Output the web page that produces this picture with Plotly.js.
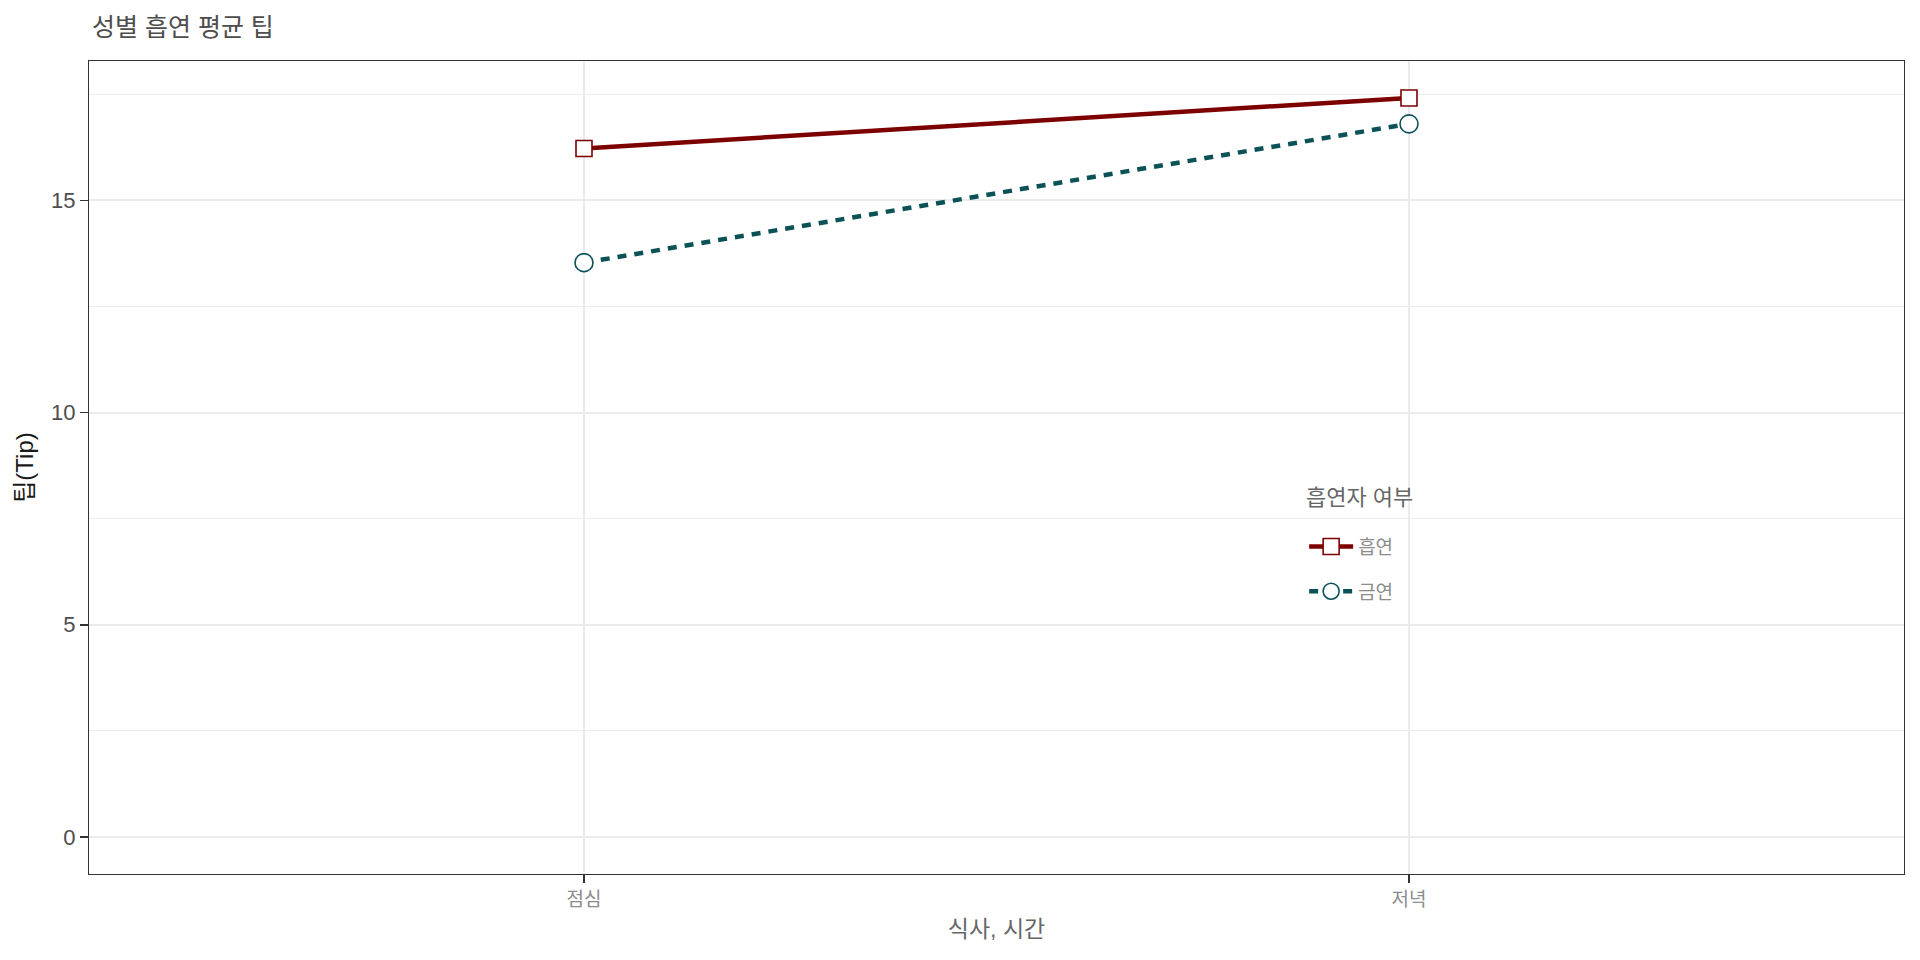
<!DOCTYPE html>
<html>
<head>
<meta charset="utf-8">
<script src="https://cdn.plot.ly/plotly-3.0.1.min.js"></script>
<style>html,body{margin:0;padding:0;background:#fff;}#chart{width:1920px;height:960px;}</style>
</head>
<body>
<div id="chart"></div>
<script>
// Data
const categories = ["점심", "저녁"];
const seriesNames = ["흡연", "금연"];
const seriesA = [16.22, 17.41];
const seriesB = [13.53, 16.80];
const yTicks = [0, 5, 10, 15];
const legendTitle = "흡연자 여부";

const FONT = "Liberation Sans, Arial, 'Noto Sans CJK KR', sans-serif";

const traces = [
  {
    x: categories, y: seriesA, name: seriesNames[0], legendgroup: "a", type: "scatter", mode: "lines+markers",
    line: {color: "#7d0000", width: 4.5, dash: "solid"},
    marker: {symbol: "square", size: 16, color: "#ffffff", line: {color: "#7d0000", width: 1.6}}
  },
  {
    x: categories, y: seriesB, name: seriesNames[1], legendgroup: "b", type: "scatter", mode: "lines+markers",
    line: {color: "#0b5257", width: 4.5, dash: "9px,8px"},
    marker: {symbol: "circle", size: 18, color: "#ffffff", line: {color: "#0b5257", width: 1.6}}
  }
];

const layout = {
  width: 1920, height: 960,
  paper_bgcolor: "#ffffff", plot_bgcolor: "#ffffff",
  margin: {l: 89, r: 16, t: 61, b: 86},
  font: {family: FONT, color: "#333333"},
  title: {text: "성별 흡연 평균 팁", x: 92/1920, xanchor: "left", y: 1 - 27/960, yanchor: "middle",
          font: {family: FONT, size: 25, color: "#4d4d4d"}},
  xaxis: {
    type: "category", range: [-0.6, 1.6],
    showgrid: true, gridcolor: "#ebebeb", gridwidth: 2,
    zeroline: false, showline: true, mirror: true, linecolor: "#333333", linewidth: 1,
    ticks: "outside", ticklen: 8, tickcolor: "#333333", tickwidth: 1.5,
    tickfont: {family: FONT, size: 19, color: "#8c8c8c"},
    title: {text: "식사, 시간", standoff: 12, font: {family: FONT, size: 23, color: "#666666"}}
  },
  yaxis: {
    range: [-0.87, 18.28],
    tickvals: yTicks, ticktext: yTicks.map(String),
    showgrid: true, gridcolor: "#ebebeb", gridwidth: 2,
    minor: {dtick: 2.5, tick0: 0, showgrid: true, gridcolor: "#ededed", gridwidth: 1, ticks: ""},
    zeroline: false, showline: true, mirror: true, linecolor: "#333333", linewidth: 1,
    ticks: "outside", ticklen: 8, tickcolor: "#333333", tickwidth: 1.5,
    tickfont: {family: FONT, size: 22, color: "#4d4d4d"},
    title: {text: "팁(Tip)", standoff: 10, font: {family: FONT, size: 24, color: "#1a1a1a"}}
  },
  shapes: [{
    type: "rect", xref: "paper", yref: "paper", layer: "between",
    x0: 0.6606, x1: 0.7405, y0: 0.2964, y1: 0.4982,
    fillcolor: "#ffffff", line: {width: 0}
  }],
  annotations: [{
    text: legendTitle, xref: "paper", yref: "paper", x: 0.6695, y: 0.4637,
    xanchor: "left", yanchor: "middle", showarrow: false,
    font: {family: FONT, size: 22, color: "#666666"}
  }],
  showlegend: true,
  legend: {
    x: 0.6695, xanchor: "left", y: 0.4260, yanchor: "top",
    bgcolor: "rgba(0,0,0,0)", borderwidth: 0,
    font: {family: FONT, size: 19, color: "#8c8c8c"},
    itemwidth: 44, tracegroupgap: 17
  }
};

Plotly.newPlot("chart", traces, layout, {displayModeBar: false, staticPlot: true});
</script>
</body>
</html>
